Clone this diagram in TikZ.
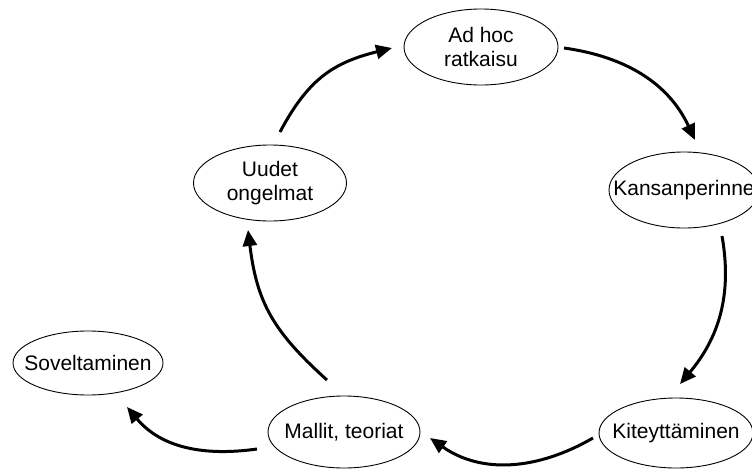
\documentclass[tikz,border=0pt]{standalone}
\usepackage{fontspec}
\setmainfont{Liberation Sans}
\usetikzlibrary{arrows.meta,calc,shapes.geometric}
\begin{document}
\begin{tikzpicture}[x=1pt,y=1pt,
  oval/.style={draw, ellipse, line width=0.9pt, inner sep=0pt, outer sep=0pt},
  lbl/.style={font=\fontsize{21}{24}\selectfont, align=center, inner sep=0pt},
  flow/.style={line width=3pt, -{Triangle[length=16pt,width=14pt]}},
]
\useasboundingbox (0,-469) rectangle (752,0);

% stages of the cycle
\node[oval, minimum width=154pt, minimum height=76pt] (A) at (481,-47) {};
\node[oval, minimum width=150pt, minimum height=76pt] (K) at (684,-190) {};
\node[oval, minimum width=154pt, minimum height=70pt] (T) at (676,-433) {};
\node[oval, minimum width=152pt, minimum height=72pt] (M) at (344,-432) {};
\node[oval, minimum width=150pt, minimum height=64pt] (S) at (88,-363) {};
\node[oval, minimum width=153pt, minimum height=76pt] (U) at (270,-183) {};

\node[lbl] (tA) at (A) {Ad hoc\\ratkaisu};
\node[lbl] (tK) at (K) {Kansanperinne};
\node[lbl] (tT) at (T) {Kiteyttäminen};
\node[lbl] (tM) at (M) {Mallit, teoriat};
\node[lbl] (tS) at (S) {Soveltaminen};
\node[lbl] (tU) at (U) {Uudet\\ongelmat};

% curved arrows between the stages
\draw[flow] ($(A.east)+(6,-1)$) to[out=-8,in=115] ($(K.north)+(11,12)$);
\draw[flow] ($(K.south)+(38,-8)$) to[out=-80,in=50] ($(T.north)+(4,14)$);
\draw[flow] ($(T.west)+(-6,-5)$) to[out=-150,in=-35] ($(M.east)+(10,-6)$);
\draw[flow] ($(M.west)+(-11,-17)$) to[out=-172,in=-50] ($(S.south)+(39,-12)$);
\draw[flow] ($(M.north)+(-17,16)$) to[out=138,in=-83,looseness=1.1] ($(U.south)+(-22,-9)$);
\draw[flow] ($(U.north)+(10,13)$) to[out=62,in=-166,looseness=1.1] ($(A.west)+(-12,-1)$);
\end{tikzpicture}
\end{document}
